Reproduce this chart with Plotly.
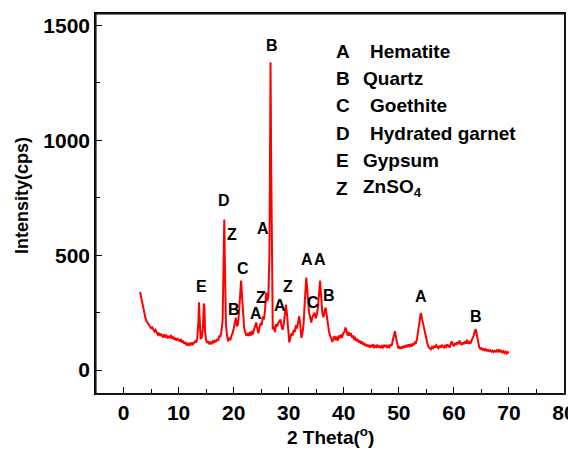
import plotly.graph_objects as go

# XRD pattern (2 theta, intensity in cps)
two_theta = [
    3.0, 3.2, 3.4, 3.6, 3.8, 4.0, 4.2, 4.4, 4.6, 4.8, 5.0, 5.2, 5.4, 5.6, 5.8, 6.0, 6.2, 6.4, 6.6, 6.8,
    7.0, 7.2, 7.4, 7.6, 7.8, 8.0, 8.2, 8.4, 8.6, 8.8, 9.0, 9.2, 9.4, 9.6, 9.8, 10.0, 10.2, 10.4, 10.6, 10.8,
    11.0, 11.2, 11.4, 11.6, 11.8, 12.0, 12.2, 12.4, 12.6, 12.8, 13.0, 13.2, 13.4, 13.6, 13.7, 13.8, 13.9, 14.0,
    14.2, 14.4, 14.6, 14.7, 14.8, 15.0, 15.2, 15.4, 15.6, 15.8, 16.0, 16.2, 16.4, 16.6, 16.8, 17.0, 17.2, 17.4,
    17.6, 17.8, 18.0, 18.1, 18.2, 18.3, 18.4, 18.5, 18.6, 18.8, 19.0, 19.2, 19.4, 19.6, 19.8, 20.0, 20.2, 20.4,
    20.6, 20.8, 21.0, 21.2, 21.35, 21.5, 21.7, 21.9, 22.1, 22.3, 22.5, 22.7, 22.9, 23.1, 23.3, 23.5, 23.7, 23.9,
    24.1, 24.3, 24.5, 24.7, 24.9, 25.1, 25.3, 25.5, 25.7, 25.9, 26.1, 26.3, 26.5, 26.6, 26.7, 26.8, 26.9, 27.0,
    27.1, 27.3, 27.5, 27.7, 27.9, 28.1, 28.3, 28.5, 28.7, 28.9, 29.1, 29.3, 29.5, 29.7, 29.9, 30.1, 30.3, 30.5,
    30.7, 30.9, 31.1, 31.3, 31.5, 31.7, 31.9, 32.1, 32.3, 32.5, 32.7, 32.9, 33.1, 33.2, 33.3, 33.5, 33.7, 33.9,
    34.1, 34.3, 34.5, 34.7, 34.9, 35.1, 35.3, 35.5, 35.7, 35.9, 36.1, 36.3, 36.5, 36.7, 36.9, 37.1, 37.3, 37.5,
    37.7, 37.9, 38.1, 38.3, 38.5, 38.7, 38.9, 39.1, 39.3, 39.5, 39.7, 39.9, 40.1, 40.3, 40.5, 40.7, 40.9, 41.1,
    41.3, 41.5, 41.7, 41.9, 42.1, 42.3, 42.5, 42.7, 42.9, 43.1, 43.3, 43.5, 43.7, 43.9, 44.1, 44.3, 44.5, 44.7,
    44.9, 45.1, 45.3, 45.5, 45.7, 45.9, 46.1, 46.3, 46.5, 46.7, 46.9, 47.1, 47.3, 47.5, 47.7, 47.9, 48.1, 48.3,
    48.5, 48.7, 48.9, 49.1, 49.3, 49.5, 49.7, 49.9, 50.1, 50.3, 50.5, 50.7, 50.9, 51.1, 51.3, 51.5, 51.7, 51.9,
    52.1, 52.3, 52.5, 52.7, 52.9, 53.1, 53.3, 53.5, 53.7, 53.9, 54.0, 54.2, 54.4, 54.6, 54.8, 55.0, 55.2, 55.4,
    55.6, 55.8, 56.0, 56.2, 56.4, 56.6, 56.8, 57.0, 57.2, 57.4, 57.6, 57.8, 58.0, 58.2, 58.4, 58.6, 58.8, 59.0,
    59.2, 59.4, 59.6, 59.8, 60.0, 60.2, 60.4, 60.6, 60.8, 61.0, 61.2, 61.4, 61.6, 61.8, 62.0, 62.2, 62.4, 62.6,
    62.8, 63.0, 63.2, 63.4, 63.6, 63.8, 64.0, 64.2, 64.4, 64.6, 64.8, 65.0, 65.2, 65.4, 65.6, 65.8, 66.0, 66.2,
    66.4, 66.6, 66.8, 67.0, 67.2, 67.4, 67.6, 67.8, 68.0, 68.2, 68.4, 68.6, 68.8, 69.0, 69.2, 69.4, 69.6, 69.8,
    70.0,
]
intensity = [
    340, 315, 290, 262, 240, 225, 212, 205, 196, 190, 182, 186, 172, 168, 175, 160, 155, 162, 148, 158,
    150, 142, 155, 145, 150, 138, 148, 140, 152, 136, 145, 132, 140, 128, 138, 130, 124, 135, 120, 128,
    115, 122, 108, 118, 105, 115, 110, 120, 112, 118, 125, 120, 140, 210, 295, 240, 150, 135,
    140, 180, 290, 270, 170, 130, 118, 125, 112, 120, 115, 125, 118, 130, 122, 135, 128, 150,
    145, 170, 220, 350, 520, 655, 480, 300, 200, 150, 125, 140, 130, 150, 160, 180, 200, 228,
    190, 200, 260, 340, 389, 330, 240, 185, 165, 150, 160, 148, 165, 150, 170, 155, 175, 190,
    207, 180, 160, 185, 205, 195, 234, 220, 260, 337, 300, 320, 500, 900, 1340, 950, 500, 280,
    177, 190, 165, 200, 190, 205, 215, 220, 190, 175, 200, 240, 285, 240, 170, 120, 140, 160,
    150, 175, 165, 195, 180, 210, 234, 200, 140, 160, 200, 290, 380, 403, 370, 290, 250, 230,
    207, 230, 240, 250, 225, 240, 270, 340, 389, 320, 250, 230, 255, 272, 240, 190, 170, 150,
    140, 122, 135, 148, 130, 145, 128, 150, 138, 155, 140, 160, 165, 185, 170, 150, 165, 150,
    160, 140, 150, 135, 140, 125, 135, 120, 128, 115, 125, 110, 118, 105, 112, 102, 110, 98,
    108, 100, 112, 96, 105, 100, 110, 98, 106, 95, 104, 98, 110, 100, 108, 96, 105, 100,
    112, 105, 130, 155, 169, 140, 110, 95, 100, 92, 102, 95, 105, 98, 108, 100, 112, 104,
    110, 102, 115, 108, 120, 115, 135, 160, 200, 235, 249, 225, 200, 180, 150, 130, 115, 100,
    95, 90, 100, 95, 105, 98, 108, 100, 95, 105, 98, 110, 102, 96, 106, 100, 112, 104,
    98, 110, 125, 112, 104, 118, 110, 122, 112, 128, 115, 108, 120, 112, 125, 115, 132, 114,
    122, 115, 128, 138, 150, 170, 177, 150, 120, 100, 92, 95, 88, 92, 85, 90, 84, 88,
    82, 86, 80, 85, 78, 84, 80, 86, 78, 90, 80, 84, 76, 82, 74, 80, 72, 78,
    75,
]

# Peak labels (letter, 2theta, intensity position)
peak_letters = ["B", "D", "Z", "A", "C", "E", "B", "A", "Z", "A", "Z", "A", "A", "C", "B", "A", "B"]
peak_x = [26.9, 18.25, 19.7, 25.4, 21.7, 14.25, 20.1, 24.0, 25.05, 28.4, 29.9, 33.3, 35.6, 34.5, 37.3, 54.1, 64.1]
peak_y = [1413, 740, 588, 615, 440, 362, 263, 246, 314, 281, 362, 480, 480, 292, 324, 318, 234]

# Phase key
key_letters = ["A", "B", "C", "D", "E", "Z"]
key_names = ["Hematite", "Quartz", "Goethite", "Hydrated garnet", "Gypsum", "ZnSO<sub>4</sub>"]

x_tick_step, x_minor_step = 10, 5
y_tick_step, y_minor_step = 500, 250

FONT = "Liberation Sans, Arial, sans-serif"

# The page body has an 8px margin, so the figure is drawn at (8, 8).
OFF = 8
FIG_W, FIG_H = 576 - OFF, 450 - OFF
# plot area in page pixels
PL, PR, PT, PB = 96, 564, 14, 393
L, R, T, B = PL - OFF, PR - OFF, PT - OFF, PB - OFF


def px(xp):
    return (xp - PL) / (PR - PL)


def py(yp):
    return (PB - yp) / (PB - PT)


fig = go.Figure()
fig.add_trace(go.Scatter(x=two_theta, y=intensity, mode="lines",
                         line=dict(color="#ff0000", width=2), showlegend=False))

for t, xx, yy in zip(peak_letters, peak_x, peak_y):
    fig.add_annotation(x=xx, y=yy, text="<b>%s</b>" % t, showarrow=False,
                       font=dict(family=FONT, size=16, color="black"),
                       xanchor="center", yanchor="middle")

for i, (k, n) in enumerate(zip(key_letters, key_names)):
    yy = 51 + 27.4 * i
    fig.add_annotation(xref="paper", yref="paper", x=px(334), y=py(yy),
                       text="<b>%s</b>" % k, showarrow=False, xanchor="left", yanchor="middle",
                       font=dict(family=FONT, size=19, color="black"))
    nx = 368 if k in ("A", "C", "D") else 361
    fig.add_annotation(xref="paper", yref="paper", x=px(nx), y=py(yy),
                       text="<b>%s</b>" % n, showarrow=False, xanchor="left", yanchor="middle",
                       font=dict(family=FONT, size=19, color="black"))

# axis titles
fig.add_annotation(xref="paper", yref="paper", x=px(330), y=py(436),
                   text="<b>2 Theta(<sup>o</sup>)</b>", showarrow=False,
                   xanchor="center", yanchor="middle",
                   font=dict(family=FONT, size=19, color="black"))
fig.add_annotation(xref="paper", yref="paper", x=px(22), y=py(196),
                   text="<b>Intensity(cps)</b>", showarrow=False, textangle=-90,
                   xanchor="center", yanchor="middle",
                   font=dict(family=FONT, size=18, color="black"))

# plot frame drawn as a bordered, empty annotation box covering the plot area
fig.add_annotation(xref="paper", yref="paper", x=0.5, y=0.5, text=" ", showarrow=False,
                   xanchor="center", yanchor="middle", width=R - L, height=B - T,
                   borderpad=0, bordercolor="#1a1a1a", borderwidth=1.6,
                   bgcolor="rgba(0,0,0,0)", font=dict(family=FONT, size=10, color="black"))

axis_common = dict(showgrid=False, zeroline=False, showline=True, linecolor="black",
                   linewidth=1.6, mirror=True, ticks="inside", ticklen=6, tickwidth=1.2,
                   tickcolor="black", automargin=False, tickmode="linear", tick0=0,
                   tickfont=dict(family=FONT, size=21, color="black", weight="bold"))
fig.update_xaxes(range=[-5, 80], dtick=x_tick_step,
                 minor=dict(ticks="inside", ticklen=4, tickwidth=1, tickcolor="black",
                            dtick=x_minor_step, tick0=0, showgrid=False),
                 **axis_common)
fig.update_yaxes(range=[-100, 1550], dtick=y_tick_step,
                 minor=dict(ticks="inside", ticklen=4, tickwidth=1, tickcolor="black",
                            dtick=y_minor_step, tick0=0, showgrid=False),
                 **axis_common)

fig.update_layout(width=FIG_W, height=FIG_H, margin=dict(l=L, r=FIG_W - R, t=T, b=FIG_H - B),
                  plot_bgcolor="white", paper_bgcolor="white", showlegend=False)

fig.write_html("out.html")
